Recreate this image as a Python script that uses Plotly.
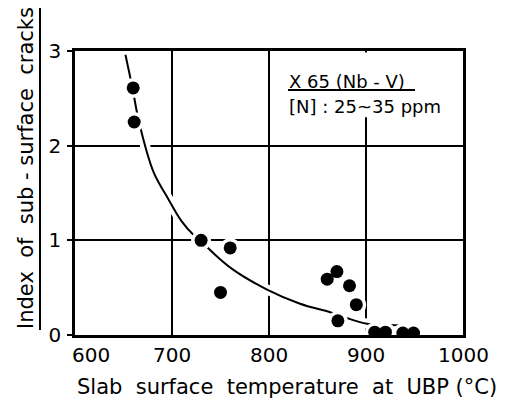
import plotly.graph_objects as go

# Data points
temp = [660, 661, 730, 760, 750, 860, 870, 883, 890, 871, 909, 920, 938, 949]
index = [2.61, 2.25, 1.00, 0.92, 0.45, 0.59, 0.67, 0.52, 0.32, 0.15, 0.03, 0.03, 0.02, 0.02]

# Fitted curve
curve_x = [652, 659, 666, 681, 696, 710, 722, 730, 739, 763, 798, 832, 863, 880, 901, 935, 943]
curve_y = [2.96, 2.62, 2.25, 1.72, 1.44, 1.20, 1.06, 1.00, 0.90, 0.69, 0.48, 0.33, 0.24, 0.18, 0.12, 0.10, 0.09]

x_ticks = [600, 700, 800, 900, 1000]
x_tick_labels = ["600", "700", "800", "900", "1000"]
y_ticks = [0, 1, 2, 3]
y_tick_labels = ["0", "1", "2", "3"]

FONT = "DejaVu Sans"

# target plot-area box in page pixels; page shows the figure offset by 8 px
L, R, T, B = 75, 463, 51, 335
OFF = 8
W, H = 517, 401


def px(x):
    return (x - L) / (R - L)


def py(y):
    return (B - y) / (B - T)


fig = go.Figure()

fig.add_trace(go.Scatter(x=curve_x[1:], y=curve_y[1:], mode="lines",
                         line=dict(color="white", width=10, shape="spline"),
                         hoverinfo="skip", showlegend=False))
fig.add_trace(go.Scatter(x=curve_x, y=curve_y, mode="lines",
                         line=dict(color="black", width=2, shape="spline"),
                         showlegend=False))
fig.add_trace(go.Scatter(x=temp, y=index, mode="markers",
                         marker=dict(color="white", size=20),
                         hoverinfo="skip", showlegend=False))
fig.add_trace(go.Scatter(x=temp, y=index, mode="markers",
                         marker=dict(color="black", size=13),
                         showlegend=False))

fig.update_layout(
    width=W, height=H,
    margin=dict(l=L - OFF, r=W - (R - OFF), t=T - OFF, b=H - (B - OFF), autoexpand=False),
    paper_bgcolor="white", plot_bgcolor="white",
    font=dict(family=FONT, color="black"),
    xaxis=dict(range=[600, 1000], tickvals=x_ticks, showticklabels=False,
               showgrid=True, gridcolor="black", gridwidth=2,
               showline=True, mirror=True, linecolor="black", linewidth=2.5,
               zeroline=False, ticks="", layer="below traces"),
    yaxis=dict(range=[0, 3], tickvals=y_ticks, ticktext=y_tick_labels,
               showgrid=True, gridcolor="black", gridwidth=2,
               showline=True, mirror=True, linecolor="black", linewidth=2.5,
               zeroline=False, ticks="outside", ticklen=5, tickwidth=1.5, tickcolor="black",
               tickfont=dict(size=20, family=FONT), ticklabelstandoff=2,
               layer="below traces"),
)

# x tick labels (the first one sits right of its tick, beside the y "0")
for i, (v, t) in enumerate(zip(x_ticks, x_tick_labels)):
    fig.add_annotation(text=t, xref="x", yref="paper", x=v, y=0,
                       xanchor="center", yanchor="top", yshift=-6,
                       xshift=16 if i == 0 else 0,
                       showarrow=False, font=dict(size=20, family=FONT))

fig.add_shape(type="rect", xref="x", yref="y", x0=890, x1=910, y0=2.30, y1=2.985,
              fillcolor="white", line=dict(width=0), layer="between")

fig.add_annotation(text="Slab\u00a0 surface\u00a0 temperature\u00a0 at\u00a0 UBP\u00a0(°C)",
                   xref="paper", yref="paper", x=px(287), y=py(387),
                   showarrow=False, font=dict(size=21, family=FONT),
                   xanchor="center", yanchor="middle")
fig.add_annotation(text="Index\u00a0 of\u00a0 sub\u00a0-\u00a0surface\u00a0 cracks",
                   xref="paper", yref="paper", x=px(26), y=py(168), textangle=-90,
                   showarrow=False, font=dict(size=21, family=FONT),
                   xanchor="center", yanchor="middle")
fig.add_shape(type="line", xref="paper", yref="paper", x0=px(40), x1=px(40),
              y0=py(330), y1=py(7), line=dict(color="black", width=2))
fig.add_shape(type="line", xref="paper", yref="paper", x0=px(107), x1=px(197),
              y0=py(1), y1=py(1), line=dict(color="black", width=2))

fig.add_annotation(text="X 65 (Nb - V)", xref="paper", yref="paper",
                   x=px(287), y=py(82), xanchor="left", yanchor="middle",
                   showarrow=False, font=dict(size=18, family=FONT))
fig.add_shape(type="line", xref="paper", yref="paper",
              x0=px(288), x1=px(415), y0=py(90), y1=py(90),
              line=dict(color="black", width=2))
fig.add_annotation(text="[N] : 25~35 ppm", xref="paper", yref="paper",
                   x=px(287), y=py(107), xanchor="left", yanchor="middle",
                   showarrow=False, font=dict(size=18, family=FONT))

fig.write_html("out.html")
